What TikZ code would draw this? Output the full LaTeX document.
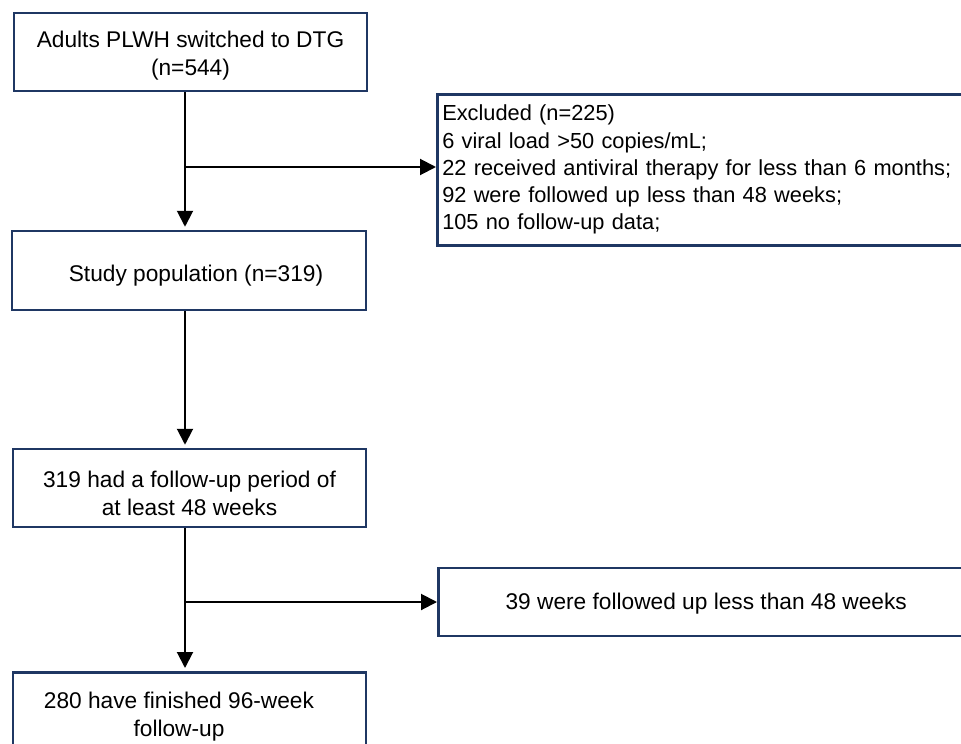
\documentclass[tikz,border=0pt]{standalone}
\usepackage{fontspec}
\setmainfont{Liberation Sans}
\usetikzlibrary{arrows.meta,calc}
\definecolor{boxnavy}{HTML}{1F3763}
\newcommand\lowerby[1]{\rule{0pt}{#1pt}}
\begin{document}
\begin{tikzpicture}[x=1pt,y=-1pt,
  every node/.style={font=\fontsize{22.7}{28}\selectfont, text=black},
  box/.style={draw=boxnavy, line width=2.5pt, fill=white, inner sep=0pt, align=center},
  conn/.style={line width=2pt, -{Triangle[length=16pt,width=16pt]}}]
\clip (0,0) rectangle (961,744);
\fill[white] (0,0) rectangle (961,744);
\coordinate (spine) at (185,0);
% main column boxes
\node[box, minimum width=353pt, minimum height=78pt] (b1) at (190.5,52)
  {\lowerby{23}Adults PLWH switched to DTG\\(n=544)};
\node[box, minimum width=354pt, minimum height=79pt] (b2) at (189,270.5)
  {\lowerby{26.5}\hspace*{14pt}Study population (n=319)};
\node[box, minimum width=353pt, minimum height=78pt] (b3) at (189.5,488)
  {\lowerby{26.5}319 had a follow-up period of\\at least 48 weeks};
\node[box, minimum width=353pt, minimum height=110pt, anchor=north] (b4) at (189.5,671) {};
\node[align=center, inner sep=0pt] (t4) at (179,717) {280 have finished 96-week\\follow-up};
% side boxes
\node[box, anchor=north west, minimum width=545pt, minimum height=151pt,
      text width=535pt, align=left, inner xsep=3pt,
      font=\fontsize{21.8}{27.3}\selectfont] (ex) at (436,93)
  {Excluded (n=225)\\
   6 viral load >50 copies/mL;\\
   22 received antiviral therapy for less than 6 months;\\
   92 were followed up less than 48 weeks;\\
   105 no follow-up data;};
\node[box, anchor=west, minimum width=536pt, minimum height=68pt] (lost) at (437,602)
  {\lowerby{20.5}39 were followed up less than 48 weeks};
% connectors
\coordinate (j1) at (185,167);
\coordinate (j2) at (185,602);
\draw[conn, shorten >=3pt] (b1.south -| spine) -- (b2.north -| spine);
\draw[conn] (j1) -- (j1 -| ex.west);
\draw[conn, shorten >=3pt] (b2.south -| spine) -- (b3.north -| spine);
\draw[conn, shorten >=3pt] (b3.south -| spine) -- (b4.north -| spine);
\draw[conn] (j2) -- (lost.west);
\end{tikzpicture}
\end{document}
